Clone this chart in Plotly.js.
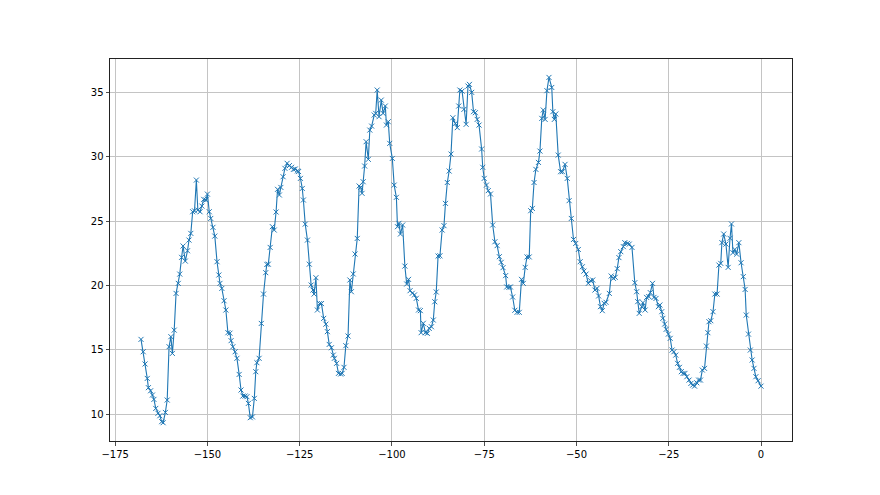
<!DOCTYPE html>
<html>
<head>
<meta charset="utf-8">
<script src="https://cdn.plot.ly/plotly-3.0.1.min.js"></script>
<style>html,body{margin:0;padding:0;background:#fff;}#chart{width:880px;height:495px;}</style>
</head>
<body>
<div id="chart"></div>
<script>
const hours = [
-168.0,-167.4,-166.9,-166.3,-166.0,-165.4,-164.9,-164.5,-164.0,-163.4,-162.9,-162.4,-162.0,-161.4,-160.9,-160.4,-159.9,-159.5,-159.0,-158.5,
-157.9,-157.5,-157.0,-156.6,-156.0,-155.4,-155.0,-154.5,-154.0,-153.5,-153.0,-152.6,-152.0,-151.5,-151.0,-150.4,-150.0,-149.5,-149.1,-148.5,
-148.0,-147.4,-146.9,-146.6,-146.1,-145.5,-145.0,-144.45,-143.9,-143.6,-143.1,-142.5,-142.0,
-141.4,-140.9,-140.4,-139.8,-139.3,-138.9,-138.4,-137.8,-137.3,-136.9,-136.6,-136.0,-135.4,-134.8,-134.2,-133.9,-133.5,-133.0,-132.4,-131.9,
-131.4,-131.0,-130.5,-130.1,-129.5,-129.0,-128.4,-127.8,-127.2,-126.7,-126.2,-125.6,-125.3,-124.8,-124.3,-124.0,-123.5,-122.9,-122.4,-121.9,
-121.4,-121.1,-120.6,-120.2,-119.6,-119.1,-118.5,-117.9,-117.5,-117.0,-116.4,-115.9,-115.6,-115.0,-114.5,-113.9,
-113.5,-113.0,-112.5,-111.9,-111.4,-111.0,-110.5,-110.0,-109.4,-108.9,-108.5,-108.1,-107.8,-107.4,-107.0,-106.4,-106.0,-105.5,-104.8,-104.4,
-104.0,-103.5,-102.9,-102.4,-101.8,-101.5,-101.0,-100.6,-99.9,-99.4,-98.8,-98.5,-98.1,-97.7,-97.1,-96.5,-96.0,-95.5,-95.1,-94.5,
-93.9,-93.4,-92.8,-92.3,-92.1,-91.5,-90.95,-90.4,-89.9,-89.3,-88.8,-88.4,-88.0,-87.5,-87.0,-86.4,-85.9,-85.5,-85.0,
-84.5,-84.0,-83.5,-82.8,-82.3,-81.9,-81.6,-81.0,-80.5,-79.9,-79.4,-79.0,-78.4,-77.9,-77.4,-76.9,-76.4,-75.7,-75.4,-75.0,
-74.4,-73.9,-73.3,-72.7,-72.1,-71.5,-70.9,-70.4,-69.9,-69.2,-68.9,-68.3,-67.9,-67.3,-66.7,-66.1,-65.5,-64.9,-64.4,-63.9,
-63.4,-62.8,-62.4,-61.96,-61.5,-61.0,-60.3,
-59.9,-59.4,-59.0,-58.5,-58.0,-57.45,-56.7,-56.4,-56.0,-55.6,-54.95,-54.3,-53.8,-53.1,-52.5,-52.0,-51.4,-50.8,-50.2,-49.5,
-49.0,-48.4,-48.0,-47.4,-46.8,-46.2,-45.6,-45.0,-44.45,-44.0,-43.5,-43.0,-42.5,-42.0,-41.1,-40.6,-40.0,-39.5,-38.96,-38.5,
-38.0,-37.3,-36.9,-36.2,-35.7,-34.96,-34.2,-33.7,-33.4,-33.0,
-32.3,-32.0,-31.4,-31.0,-30.4,-30.0,-29.4,-29.0,-28.45,-27.8,-27.4,-26.9,-26.6,-26.1,-25.7,-25.1,-24.6,-24.1,-23.6,-23.1,
-22.6,-22.1,-21.6,-21.1,-20.6,-20.1,-19.5,-19.0,-18.5,-18.0,-17.4,-16.9,-16.4,-15.9,-15.3,-14.8,-14.4,-14.1,-13.6,-13.0,
-12.5,-11.9,-11.4,-10.9,-10.6,-10.1,-9.5,-8.9,-8.4,-8.0,-7.6,-7.1,-6.6,-6.0,-5.4,-4.8,-4.3,-4.0,-3.4,-2.9,
-2.4,-1.9,-1.4,-0.8,0.0
];
const temps = [
15.82,14.86,13.91,12.79,12.07,11.83,11.5,11.16,10.46,10.08,9.89,9.43,9.35,10.15,11.11,15.25,16.03,14.73,16.54,19.39,
20.17,20.89,22.19,23.07,21.9,22.7,23.53,24.05,25.73,25.8,28.19,25.86,25.73,26.17,26.69,26.64,27.1,25.73,25.21,24.52,
23.84,21.85,20.82,20.17,19.78,18.82,18.1,16.34,16.3,15.72,15.25,14.86,14.35,
13.1,11.89,11.42,11.42,11.37,10.85,9.74,9.8,11.24,13.31,14.01,14.35,17.06,19.34,21.0,21.64,21.66,22.96,24.57,24.31,
25.71,27.47,27.03,27.62,28.45,29.1,29.49,29.31,29.18,29.02,29.05,28.9,28.85,28.32,27.54,26.64,24.77,23.53,21.66,20.04,
19.65,19.34,20.61,18.1,18.6,18.6,17.45,17.0,16.42,15.43,15.17,14.6,14.35,13.96,13.18,13.13,
13.18,13.65,15.33,16.08,20.43,19.52,20.9,22.45,23.66,27.73,27.62,27.16,28.06,29.28,31.17,29.8,32.07,32.38,33.24,33.37,
35.18,33.11,34.4,33.37,33.94,32.46,32.72,31.04,29.87,27.8,26.85,24.57,24.83,24.0,24.7,21.51,20.12,20.48,19.6,19.4,
19.27,19.01,18.1,18.05,16.34,17.07,16.34,16.29,16.68,16.8,17.32,18.74,19.5,22.29,22.31,24.31,24.65,26.38,28.0,
28.89,30.21,33.03,32.59,32.26,33.94,35.18,35.1,33.68,32.52,35.49,35.62,35.0,33.5,33.42,32.9,32.46,30.6,29.18,28.32,
27.8,27.37,27.11,24.7,23.4,23.1,22.24,21.8,21.39,20.77,19.89,19.86,19.89,19.11,18.08,17.92,17.92,20.48,20.17,21.41,
22.22,22.22,25.81,25.99,28.0,29.02,29.56,
30.44,32.98,33.63,32.9,35.13,36.16,35.38,33.5,32.9,33.32,30.13,28.84,28.84,29.41,28.32,26.59,25.21,23.58,23.27,22.8,
21.85,21.46,21.12,20.89,20.17,20.38,20.43,19.65,19.78,19.19,18.36,18.05,18.62,18.7,19.39,20.74,20.56,20.64,21.31,22.17,
22.63,23.02,23.33,23.27,23.22,22.96,20.22,19.52,18.75,17.84,
18.36,18.67,18.1,19.08,19.14,19.45,20.17,19.08,19.0,18.36,18.49,17.97,17.45,17.01,16.6,16.23,15.9,14.99,14.86,14.6,
13.96,13.65,13.31,13.18,13.18,12.92,12.66,12.4,12.27,12.19,12.45,12.66,12.66,13.44,13.57,15.3,16.34,17.19,17.27,17.97,
19.34,19.34,21.59,21.72,23.33,24.0,23.22,21.41,23.67,24.78,22.55,22.8,22.44,23.33,21.77,20.69,19.7,17.71,16.23,14.99,
14.22,13.57,12.92,12.61,12.19
];
const xTicks = [-175, -150, -125, -100, -75, -50, -25, 0];
const yTicks = [10, 15, 20, 25, 30, 35];

const axisCommon = {
  showgrid: true, gridcolor: '#c4c4c4', gridwidth: 1,
  zeroline: false, showline: true, linecolor: '#222', linewidth: 1, mirror: true,
  ticks: 'outside', ticklen: 3.5, tickwidth: 0.8, tickcolor: '#222',
  tickfont: {family: 'DejaVu Sans', size: 10, color: '#000'}
};

const trace = {
  x: hours, y: temps, type: 'scatter', mode: 'lines+markers',
  line: {color: '#1f77b4', width: 1.1},
  marker: {symbol: 'x-thin', size: 5, color: '#1f77b4', line: {color: '#1f77b4', width: 1}}
};

const layout = {
  width: 880, height: 495,
  margin: {l: 110, r: 88, t: 59, b: 54},
  paper_bgcolor: '#fff', plot_bgcolor: '#fff',
  showlegend: false,
  xaxis: Object.assign({}, axisCommon, {range: [-176.4, 8.4], tickvals: xTicks, ticktext: xTicks.map(v => v < 0 ? '\u2212' + Math.abs(v) : String(v))}),
  yaxis: Object.assign({}, axisCommon, {range: [7.93, 37.59], tickvals: yTicks})
};

Plotly.newPlot('chart', [trace], layout, {displayModeBar: false, staticPlot: true});
</script>
</body>
</html>
